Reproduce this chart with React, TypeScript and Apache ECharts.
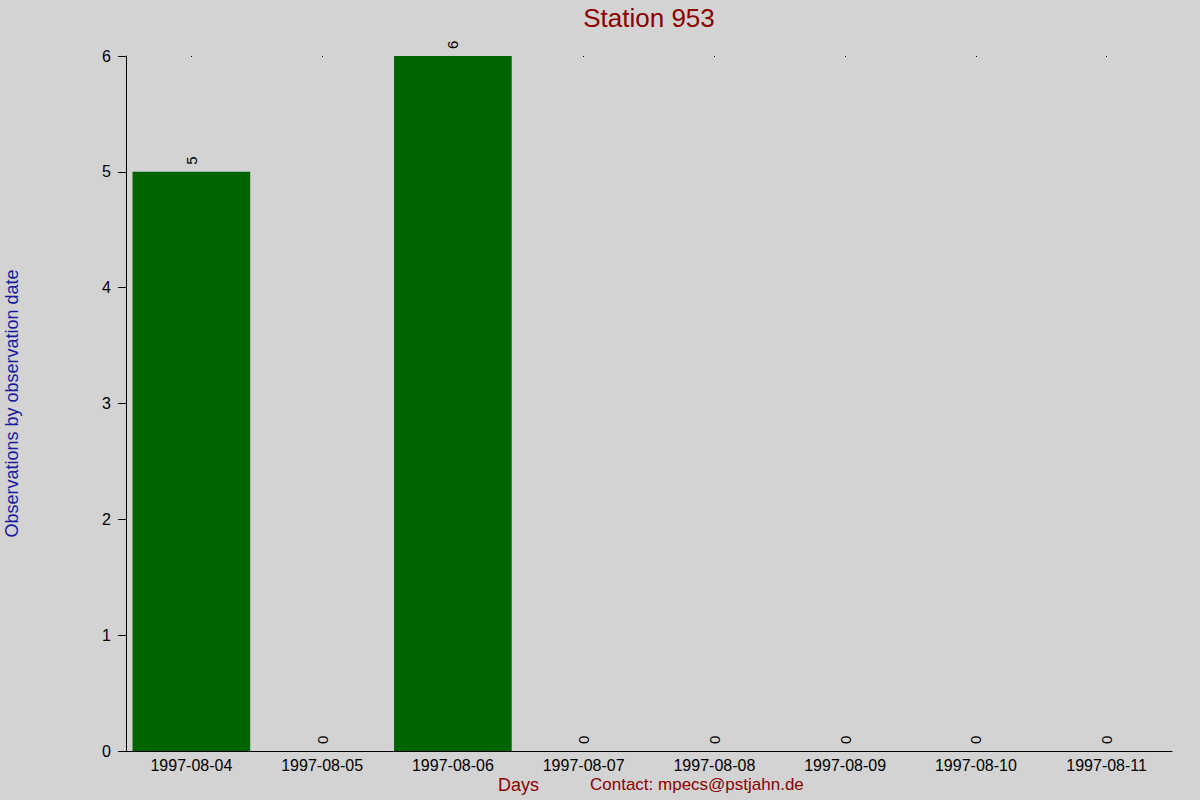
import { useEffect, useRef } from 'react';
import * as echarts from 'echarts';

const days = [
  '1997-08-04',
  '1997-08-05',
  '1997-08-06',
  '1997-08-07',
  '1997-08-08',
  '1997-08-09',
  '1997-08-10',
  '1997-08-11',
];
const observations = [5, 0, 6, 0, 0, 0, 0, 0];
const yTicks = [0, 1, 2, 3, 4, 5, 6];

const FONT = '"Liberation Sans", Arial, sans-serif';

export default function App() {
  const ref = useRef<HTMLDivElement>(null);

  useEffect(() => {
    if (!ref.current) return;
    const chart = echarts.init(ref.current, undefined, { renderer: 'svg' });
    chart.setOption({
      animation: false,
      backgroundColor: '#d3d3d3',
      textStyle: { fontFamily: FONT },
      title: {
        text: 'Station 953',
        left: 644,
        top: 0,
        textAlign: 'center',
        textStyle: { color: '#8b0000', fontSize: 26, fontWeight: 'normal', fontFamily: FONT },
      },
      grid: { left: 126, right: 28, top: 56, bottom: 49, outerBoundsMode: 'none', containLabel: false },
      xAxis: [
        {
          type: 'category',
          data: days,
          position: 'bottom',
          axisLine: { lineStyle: { color: '#000', width: 1 } },
          axisTick: { show: false },
          axisLabel: { color: '#000', fontSize: 16, margin: 6, fontFamily: FONT },
        },
        {
          type: 'category',
          data: days,
          position: 'top',
          axisLine: { show: false },
          axisTick: { show: true, alignWithLabel: true, length: 1, inside: true, lineStyle: { color: '#000' } },
          axisLabel: { show: false },
        },
      ],
      yAxis: {
        type: 'value',
        min: yTicks[0],
        max: yTicks[yTicks.length - 1],
        interval: 1,
        name: 'Observations by observation date',
        nameLocation: 'middle',
        nameGap: 105,
        nameRotate: 90,
        nameTextStyle: { color: '#1a1a9c', fontSize: 18, fontFamily: FONT },
        axisLine: { show: true, lineStyle: { color: '#000', width: 1 } },
        axisTick: { show: true, length: 8, lineStyle: { color: '#000' } },
        axisLabel: { color: '#000', fontSize: 16, margin: 15, fontFamily: FONT },
        splitLine: { show: false },
      },
      series: [
        {
          type: 'bar',
          data: observations,
          xAxisIndex: 0,
          barCategoryGap: '10%',
          itemStyle: { color: '#006400' },
          label: {
            show: true,
            position: 'top',
            rotate: 90,
            align: 'left',
            verticalAlign: 'middle',
            distance: 7,
            color: '#000',
            fontSize: 15,
            fontFamily: FONT,
          },
        },
      ],
      graphic: [
        {
          type: 'text',
          left: 498,
          top: 776,
          style: { text: 'Days', fill: '#8b0000', fontSize: 18, fontFamily: FONT },
        },
        {
          type: 'text',
          left: 590,
          top: 776,
          style: { text: 'Contact: mpecs@pstjahn.de', fill: '#8b0000', fontSize: 17, fontFamily: FONT },
        },
      ],
    });
    return () => chart.dispose();
  }, []);

  return (
    <div
      ref={ref}
      style={{ position: 'fixed', left: 0, top: 0, width: 1200, height: 800 }}
    />
  );
}
